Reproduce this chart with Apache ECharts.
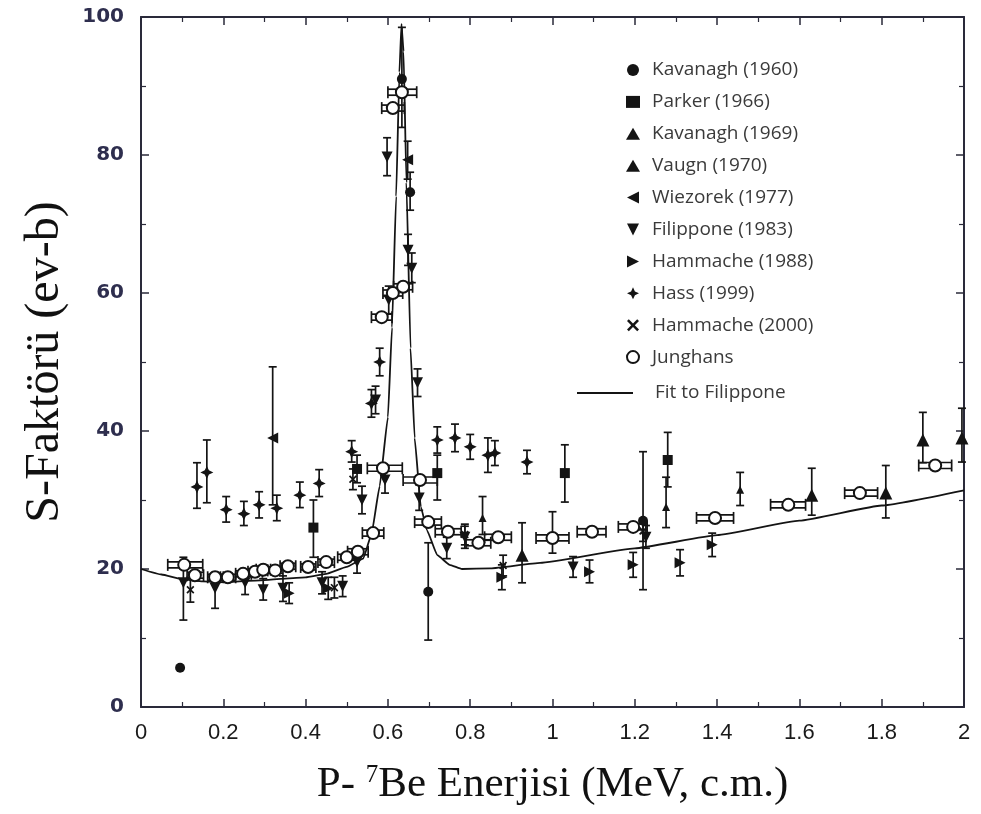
<!DOCTYPE html>
<html>
<head>
<meta charset="utf-8">
<title>S-Faktörü</title>
<script src="https://cdn.jsdelivr.net/npm/echarts@6.0.0/dist/echarts.min.js"></script>
<style>
html, body { margin: 0; padding: 0; background: #fff; }
#chart { width: 981px; height: 814px; }
</style>
</head>
<body>
<div id="chart"></div>
<script>
//-----------------------------------------data-----------------------------------------
// rows: [energy MeV, S, S low, S high]
var kavanagh1960 = [
    [0.095, 5.7, null, null],
    [0.634, 91.0, 84.0, 98.5],
    [0.654, 74.6, 72.0, 77.5],
    [0.698, 16.7, 9.7, 23.8],
    [1.220, 27.0, 17.0, 37.0]
];
var parker1966 = [
    [0.419, 26.0, 21.7, 30.0],
    [0.525, 34.5, 32.5, 36.5],
    [0.720, 33.9, 30.0, 36.5],
    [1.030, 33.9, 29.7, 38.0],
    [1.280, 35.8, 31.9, 39.8]
];
var kavanagh1969 = [
    [0.830, 27.4, 25.0, 30.5],
    [1.276, 29.0, 26.0, 33.3],
    [1.456, 31.5, 29.2, 34.0]
];
var vaugn1970 = [
    [0.926, 22.0, 18.0, 26.7],
    [1.630, 30.7, 27.8, 34.6],
    [1.810, 31.0, 27.4, 35.0],
    [1.900, 38.7, 35.4, 42.7],
    [1.995, 39.0, 35.5, 43.3]
];
var wiezorek1977 = [
    [0.320, 39.0, 29.3, 49.3],
    [0.648, 79.3, 76.5, 82.0]
];
var filippone1983 = [
    [0.103, 18.0, 12.6, 21.7],
    [0.180, 17.2, 14.3, 19.5],
    [0.253, 18.0, 16.3, 19.8],
    [0.297, 17.0, 15.5, 18.6],
    [0.345, 17.2, 15.3, 19.0],
    [0.440, 18.0, 16.4, 19.6],
    [0.490, 17.5, 16.0, 19.0],
    [0.525, 21.0, 19.4, 22.6],
    [0.537, 30.0, 28.0, 32.0],
    [0.570, 44.5, 42.5, 46.5],
    [0.593, 32.9, 31.0, 35.0],
    [0.598, 79.7, 77.0, 82.5],
    [0.602, 59.0, 57.0, 61.0],
    [0.649, 66.2, 64.0, 68.5],
    [0.658, 63.6, 61.5, 65.8],
    [0.672, 47.0, 45.0, 49.0],
    [0.676, 30.3, 28.5, 32.2],
    [0.743, 23.0, 21.5, 24.6],
    [0.787, 24.6, 23.0, 26.2],
    [1.050, 20.3, 18.8, 21.8],
    [1.227, 24.6, 23.0, 26.3]
];
var hammache1988 = [
    [0.360, 16.5, 15.0, 18.0],
    [0.455, 17.2, 15.6, 18.8],
    [0.877, 18.8, 17.0, 20.6],
    [1.090, 19.6, 18.0, 21.3],
    [1.196, 20.6, 18.8, 22.4],
    [1.310, 20.9, 19.0, 22.8],
    [1.388, 23.5, 21.8, 25.2]
];
var hass1999 = [
    [0.136, 31.9, 28.8, 35.4],
    [0.160, 34.0, 29.6, 38.7],
    [0.207, 28.6, 26.8, 30.5],
    [0.250, 28.0, 26.3, 29.8],
    [0.287, 29.3, 27.4, 31.2],
    [0.330, 28.8, 27.0, 30.7],
    [0.386, 30.7, 28.9, 32.6],
    [0.433, 32.4, 30.5, 34.4],
    [0.512, 37.0, 35.5, 38.6],
    [0.560, 44.0, 42.0, 46.0],
    [0.580, 50.0, 48.0, 52.0],
    [0.720, 38.7, 36.8, 40.6],
    [0.763, 39.0, 37.0, 41.0],
    [0.800, 37.7, 35.9, 39.5],
    [0.843, 36.5, 34.0, 39.0],
    [0.860, 36.8, 35.0, 38.6],
    [0.938, 35.5, 33.8, 37.2]
];
var hammache2000 = [
    [0.120, 17.0, 15.2, 18.8],
    [0.470, 17.3, 15.8, 18.8],
    [0.515, 33.0, 31.5, 34.5],
    [0.787, 25.0, 23.5, 26.5],
    [0.880, 20.5, 19.0, 22.0],
    [1.220, 25.5, 24.0, 27.0]
];
// rows: [energy, S, S low, S high, energy low, energy high]
var junghans = [
    [0.105, 20.6, 20.6, 20.6, 0.065, 0.150],
    [0.131, 19.1, 19.1, 19.1, 0.112, 0.152],
    [0.180, 18.8, 18.8, 18.8, 0.162, 0.200],
    [0.211, 18.8, 18.8, 18.8, 0.193, 0.230],
    [0.248, 19.3, 19.3, 19.3, 0.230, 0.268],
    [0.277, 19.6, 19.6, 19.6, 0.260, 0.295],
    [0.297, 19.9, 19.9, 19.9, 0.280, 0.315],
    [0.326, 19.8, 19.8, 19.8, 0.308, 0.345],
    [0.357, 20.4, 20.4, 20.4, 0.338, 0.376],
    [0.406, 20.3, 20.3, 20.3, 0.388, 0.425],
    [0.450, 21.0, 21.0, 21.0, 0.430, 0.470],
    [0.500, 21.7, 21.7, 21.7, 0.478, 0.522],
    [0.527, 22.5, 22.5, 22.5, 0.502, 0.552],
    [0.564, 25.2, 25.2, 25.2, 0.538, 0.590],
    [0.588, 34.6, 34.6, 34.6, 0.550, 0.635],
    [0.585, 56.5, 56.5, 56.5, 0.560, 0.610],
    [0.612, 60.0, 60.0, 60.0, 0.588, 0.636],
    [0.637, 60.9, 60.9, 60.9, 0.614, 0.660],
    [0.612, 86.8, 86.8, 86.8, 0.585, 0.640],
    [0.634, 89.1, 89.1, 89.1, 0.600, 0.670],
    [0.678, 32.9, 32.9, 32.9, 0.637, 0.720],
    [0.698, 26.8, 26.8, 26.8, 0.665, 0.730],
    [0.746, 25.4, 25.4, 25.4, 0.715, 0.778],
    [0.820, 23.8, 23.8, 23.8, 0.790, 0.850],
    [0.868, 24.6, 24.6, 24.6, 0.835, 0.900],
    [1.000, 24.5, 22.3, 28.3, 0.960, 1.040],
    [1.096, 25.4, 25.4, 25.4, 1.060, 1.130],
    [1.196, 26.1, 26.1, 26.1, 1.160, 1.230],
    [1.395, 27.4, 27.4, 27.4, 1.350, 1.440],
    [1.573, 29.3, 29.3, 29.3, 1.530, 1.615],
    [1.747, 31.0, 31.0, 31.0, 1.710, 1.790],
    [1.930, 35.0, 35.0, 35.0, 1.890, 1.970]
];
// fit to Filippone
var fitEnergy = [0, 0.05, 0.10, 0.15, 0.20, 0.30, 0.40, 0.45, 0.50, 0.54, 0.56, 0.58, 0.60, 0.61, 0.62, 0.628, 0.633, 0.638, 0.645, 0.655, 0.665, 0.68, 0.695, 0.72, 0.75, 0.78, 0.85, 0.97, 1.20, 1.40, 1.60, 1.80, 2.00];
var fitS = [20.0, 19.2, 18.5, 18.2, 18.1, 18.4, 18.8, 19.3, 20.3, 21.5, 25.0, 32.0, 42.0, 55.0, 74.0, 92.0, 99.0, 95.0, 76.0, 52.0, 39.0, 29.0, 25.6, 22.0, 20.6, 20.0, 20.1, 20.9, 23.0, 24.9, 27.0, 29.2, 31.4];

var xTicks = [0, 2, 0.2];
var yTicks = [0, 100, 20];

//-----------------------------------------helpers-----------------------------------------
var ink = '#141414';

function seg(x1, y1, x2, y2) {
    return {
        type: 'line',
        shape: { x1: x1, y1: y1, x2: x2, y2: y2 },
        style: { stroke: ink, lineWidth: 1.7 }
    };
}

//vertical error bars with caps
function verticalBars(params, api) {
    var x = api.value(0);
    var lo = api.value(2);
    var hi = api.value(3);
    var parts = [];
    if (hi - lo > 0.05) {
        var top = api.coord([x, hi]);
        var bottom = api.coord([x, lo]);
        parts.push(seg(top[0], top[1], bottom[0], bottom[1]));
        parts.push(seg(top[0] - 4, top[1], top[0] + 4, top[1]));
        parts.push(seg(bottom[0] - 4, bottom[1], bottom[0] + 4, bottom[1]));
    }
    return { type: 'group', children: parts };
}

//Junghans: double horizontal bar plus optional vertical bar
function junghansBars(params, api) {
    var group = verticalBars(params, api);
    var y = api.value(1);
    var left = api.coord([api.value(4), y]);
    var right = api.coord([api.value(5), y]);
    var parts = group.children;
    parts.push(seg(left[0], left[1] - 3, right[0], right[1] - 3));
    parts.push(seg(left[0], left[1] + 3, right[0], right[1] + 3));
    parts.push(seg(left[0], left[1] - 6, left[0], left[1] + 6));
    parts.push(seg(right[0], right[1] - 6, right[0], right[1] + 6));
    return group;
}

function points(rows) {
    return rows.map(function (r) { return [r[0], r[1]]; });
}

function withErrors(rows) {
    return rows.filter(function (r) { return r[2] != null; });
}

function markerSeries(name, rows, symbol, size) {
    return {
        name: name,
        type: 'scatter',
        data: points(rows),
        symbol: symbol,
        symbolSize: size,
        itemStyle: { color: ink, opacity: 1 },
        z: 5
    };
}

function errorSeries(rows, render) {
    return {
        type: 'custom',
        silent: true,
        data: withErrors(rows),
        encode: { x: 0, y: 1 },
        renderItem: render,
        z: 3
    };
}

var leftTri = 'path://M0,5 L10,0 L10,10 Z';
var downTri = 'path://M0,0 L10,0 L5,10 Z';
var rightTri = 'path://M0,0 L10,5 L0,10 Z';
var star = 'path://M5,0 L6.6,3.4 L10,5 L6.6,6.6 L5,10 L3.4,6.6 L0,5 L3.4,3.4 Z';
var cross = 'path://M1.5,0 L5,3.5 L8.5,0 L10,1.5 L6.5,5 L10,8.5 L8.5,10 L5,6.5 L1.5,10 L0,8.5 L3.5,5 L0,1.5 Z';

var legendNames = ['Kavanagh (1960)', 'Parker (1966)', 'Kavanagh (1969)', 'Vaugn (1970)', 'Wiezorek (1977)',
    'Filippone (1983)', 'Hammache (1988)', 'Hass (1999)', 'Hammache (2000)', 'Junghans'];

//-----------------------------------------chart-----------------------------------------
var chart = echarts.init(document.getElementById('chart'));

var tickStyle = { inside: true, length: 8, lineStyle: { color: '#2a2a3a', width: 1.5 } };
var minorStyle = { show: true, splitNumber: 2, length: 5, lineStyle: { color: '#2a2a3a', width: 1.2 } };
var lineStyle = { show: true, onZero: false, lineStyle: { color: '#2a2a3a', width: 2 } };
var legendText = { fontFamily: 'Open Sans', fontSize: 19, color: '#3a3a3a', lineHeight: 20 };

var series = [
    errorSeries(kavanagh1960, verticalBars),
    errorSeries(parker1966, verticalBars),
    errorSeries(kavanagh1969, verticalBars),
    errorSeries(vaugn1970, verticalBars),
    errorSeries(wiezorek1977, verticalBars),
    errorSeries(filippone1983, verticalBars),
    errorSeries(hammache1988, verticalBars),
    errorSeries(hass1999, verticalBars),
    errorSeries(hammache2000, verticalBars),
    errorSeries(junghans, junghansBars),
    {
        name: 'Fit to Filippone',
        type: 'line',
        data: fitEnergy.map(function (e, i) { return [e, fitS[i]]; }),
        showSymbol: false,
        symbol: 'none',
        smooth: 0.12,
        smoothMonotone: 'x',
        lineStyle: { color: ink, width: 1.8 },
        itemStyle: { color: ink },
        z: 2
    },
    markerSeries('Kavanagh (1960)', kavanagh1960, 'circle', 10),
    markerSeries('Parker (1966)', parker1966, 'rect', 10),
    markerSeries('Kavanagh (1969)', kavanagh1969, 'triangle', 8),
    markerSeries('Vaugn (1970)', vaugn1970, 'triangle', 13),
    markerSeries('Wiezorek (1977)', wiezorek1977, leftTri, 11),
    markerSeries('Filippone (1983)', filippone1983, downTri, 11),
    markerSeries('Hammache (1988)', hammache1988, rightTri, 11),
    markerSeries('Hass (1999)', hass1999, star, 13),
    markerSeries('Hammache (2000)', hammache2000, cross, 8),
    {
        name: 'Junghans',
        type: 'scatter',
        data: points(junghans),
        symbol: 'circle',
        symbolSize: 12,
        itemStyle: { color: '#fff', borderColor: ink, borderWidth: 2, opacity: 1 },
        z: 6
    }
];

var option = {
    backgroundColor: '#fff',
    animation: false,
    grid: { left: 141, right: 17, top: 17, bottom: 107, outerBoundsMode: 'none' },
    legend: [{
        data: legendNames,
        orient: 'vertical',
        left: 621,
        top: 55,
        itemWidth: 14,
        itemHeight: 12,
        itemGap: 11.9,
        textStyle: Object.assign({ padding: [0, 0, 0, 7] }, legendText)
    }, {
        data: [{ name: 'Fit to Filippone', icon: 'rect' }],
        orient: 'vertical',
        left: 572,
        top: 378,
        itemWidth: 56,
        itemHeight: 2,
        textStyle: Object.assign({ padding: [0, 0, 0, 17] }, legendText)
    }],
    xAxis: [{
        type: 'value',
        min: xTicks[0],
        max: xTicks[1],
        interval: xTicks[2],
        position: 'bottom',
        name: 'P- {sup|7}Be Enerjisi (MeV, c.m.)',
        nameLocation: 'middle',
        nameGap: 56,
        nameTextStyle: {
            fontFamily: 'Liberation Serif',
            fontSize: 43,
            color: '#111',
            rich: { sup: { fontFamily: 'Liberation Serif', fontSize: 25, color: '#111', verticalAlign: 'top', padding: [0, 0, 15, 0] } }
        },
        axisLine: lineStyle,
        axisTick: tickStyle,
        minorTick: minorStyle,
        splitLine: { show: false },
        axisLabel: { fontFamily: 'Liberation Sans', fontSize: 22, color: '#1a1a1a', margin: 15 }
    }, {
        type: 'value',
        min: xTicks[0],
        max: xTicks[1],
        interval: xTicks[2],
        position: 'top',
        axisLine: lineStyle,
        axisTick: tickStyle,
        minorTick: minorStyle,
        splitLine: { show: false },
        axisLabel: { show: false }
    }],
    yAxis: [{
        type: 'value',
        min: yTicks[0],
        max: yTicks[1],
        interval: yTicks[2],
        position: 'left',
        name: 'S-Faktörü (ev-b)',
        nameLocation: 'middle',
        nameGap: 72,
        nameTextStyle: { fontFamily: 'Liberation Serif', fontSize: 48, color: '#111' },
        axisLine: lineStyle,
        axisTick: tickStyle,
        minorTick: minorStyle,
        splitLine: { show: false },
        axisLabel: { fontFamily: 'DejaVu Sans', fontWeight: 'bold', fontSize: 20, color: '#2e2e4e', margin: 17 }
    }, {
        type: 'value',
        min: yTicks[0],
        max: yTicks[1],
        interval: yTicks[2],
        position: 'right',
        axisLine: lineStyle,
        axisTick: tickStyle,
        minorTick: minorStyle,
        splitLine: { show: false },
        axisLabel: { show: false }
    }],
    series: series
};

chart.setOption(option);
</script>
</body>
</html>
